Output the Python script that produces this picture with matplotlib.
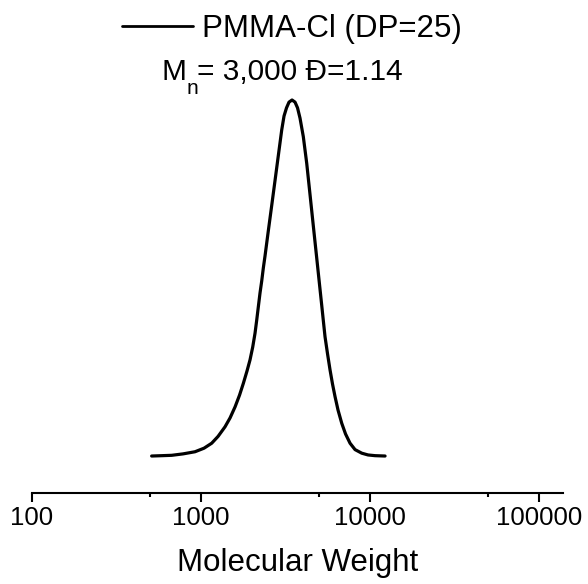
import numpy as np
import matplotlib
matplotlib.use("Agg")
import matplotlib.pyplot as plt
from matplotlib.ticker import FixedLocator, FixedFormatter, NullFormatter

plt.rcParams['font.family'] = ['Liberation Sans', 'DejaVu Sans']

# GPC trace (molecular weight, normalised signal)
mw = [512, 590, 673, 785, 924, 1045, 1160, 1264, 1390, 1489, 1594, 1694,
      1784, 1876, 1954, 2027, 2092, 2141, 2188, 2239, 2292, 2342, 2397, 2506,
      2626, 2747, 2873, 3009, 3105, 3212, 3323, 3462, 3606, 3731, 3860, 4037,
      4229, 4424, 4627, 4846, 5020, 5188, 5302, 5426, 5614, 5808, 6009, 6217,
      6477, 6812, 7173, 7627, 8165, 8944, 9746, 10720, 12287]
signal = [0.0, 0.001, 0.002, 0.006, 0.012, 0.022, 0.036, 0.055, 0.082, 0.107,
          0.138, 0.171, 0.204, 0.239, 0.270, 0.306, 0.345, 0.382, 0.419, 0.458,
          0.492, 0.528, 0.562, 0.632, 0.704, 0.774, 0.844, 0.916, 0.955, 0.978,
          0.994, 1.000, 0.994, 0.978, 0.949, 0.897, 0.822, 0.734, 0.646, 0.556,
          0.487, 0.423, 0.380, 0.335, 0.287, 0.242, 0.202, 0.167, 0.129, 0.092,
          0.062, 0.036, 0.018, 0.008, 0.003, 0.001, 0.0]

series_label = "PMMA-Cl (DP=25)"
info_main = "M"
info_sub = "n"
info_rest = "= 3,000 Đ=1.14"
x_label = "Molecular Weight"
major_ticks = [100, 1000, 10000, 100000]
major_labels = ["100", "1000", "10000", "100000"]
minor_ticks = [500, 5000, 50000]

fig = plt.figure(figsize=(5.88, 5.84), dpi=100)
ax = fig.add_axes([0.0539, 0.1558, 0.904, 0.7415])

line, = ax.plot(mw, signal, color='black', lw=2.3, solid_joinstyle='round',
                solid_capstyle='round', label=series_label)
ax.set_xscale('log')
ax.set_xlim(100, 1.39e5)
ax.set_ylim(-0.1039, 1.1124)

for s in ['top', 'right', 'left']:
    ax.spines[s].set_visible(False)
ax.spines['bottom'].set_linewidth(1.5)
ax.yaxis.set_visible(False)

ax.xaxis.set_major_locator(FixedLocator(major_ticks))
ax.xaxis.set_major_formatter(FixedFormatter(major_labels))
ax.xaxis.set_minor_locator(FixedLocator(minor_ticks))
ax.xaxis.set_minor_formatter(NullFormatter())
ax.tick_params(axis='x', which='major', direction='out', length=6.5, width=1.5,
               labelsize=18.5, pad=3)
ax.tick_params(axis='x', which='minor', direction='out', length=3, width=1.5)
ax.set_xlabel(x_label, fontsize=22.5, labelpad=13)

leg = fig.legend(handles=[line], loc='center left',
                 bbox_to_anchor=(121.7 / 588, 1 - 29 / 584), frameon=False,
                 fontsize=22.5, handlelength=2.29, handletextpad=0.27,
                 borderaxespad=0, borderpad=0)
for h in leg.legend_handles:
    h.set_linewidth(2.0)

fig.text(161 / 588, 1 - 80 / 584, info_main, fontsize=21.5, ha='left',
         va='baseline')
fig.text(187 / 588, 1 - 94 / 584, info_sub, fontsize=15, ha='left',
         va='baseline')
fig.text(197 / 588, 1 - 80 / 584, info_rest, fontsize=21.5, ha='left',
         va='baseline')

fig.savefig('out.png', dpi=100)
